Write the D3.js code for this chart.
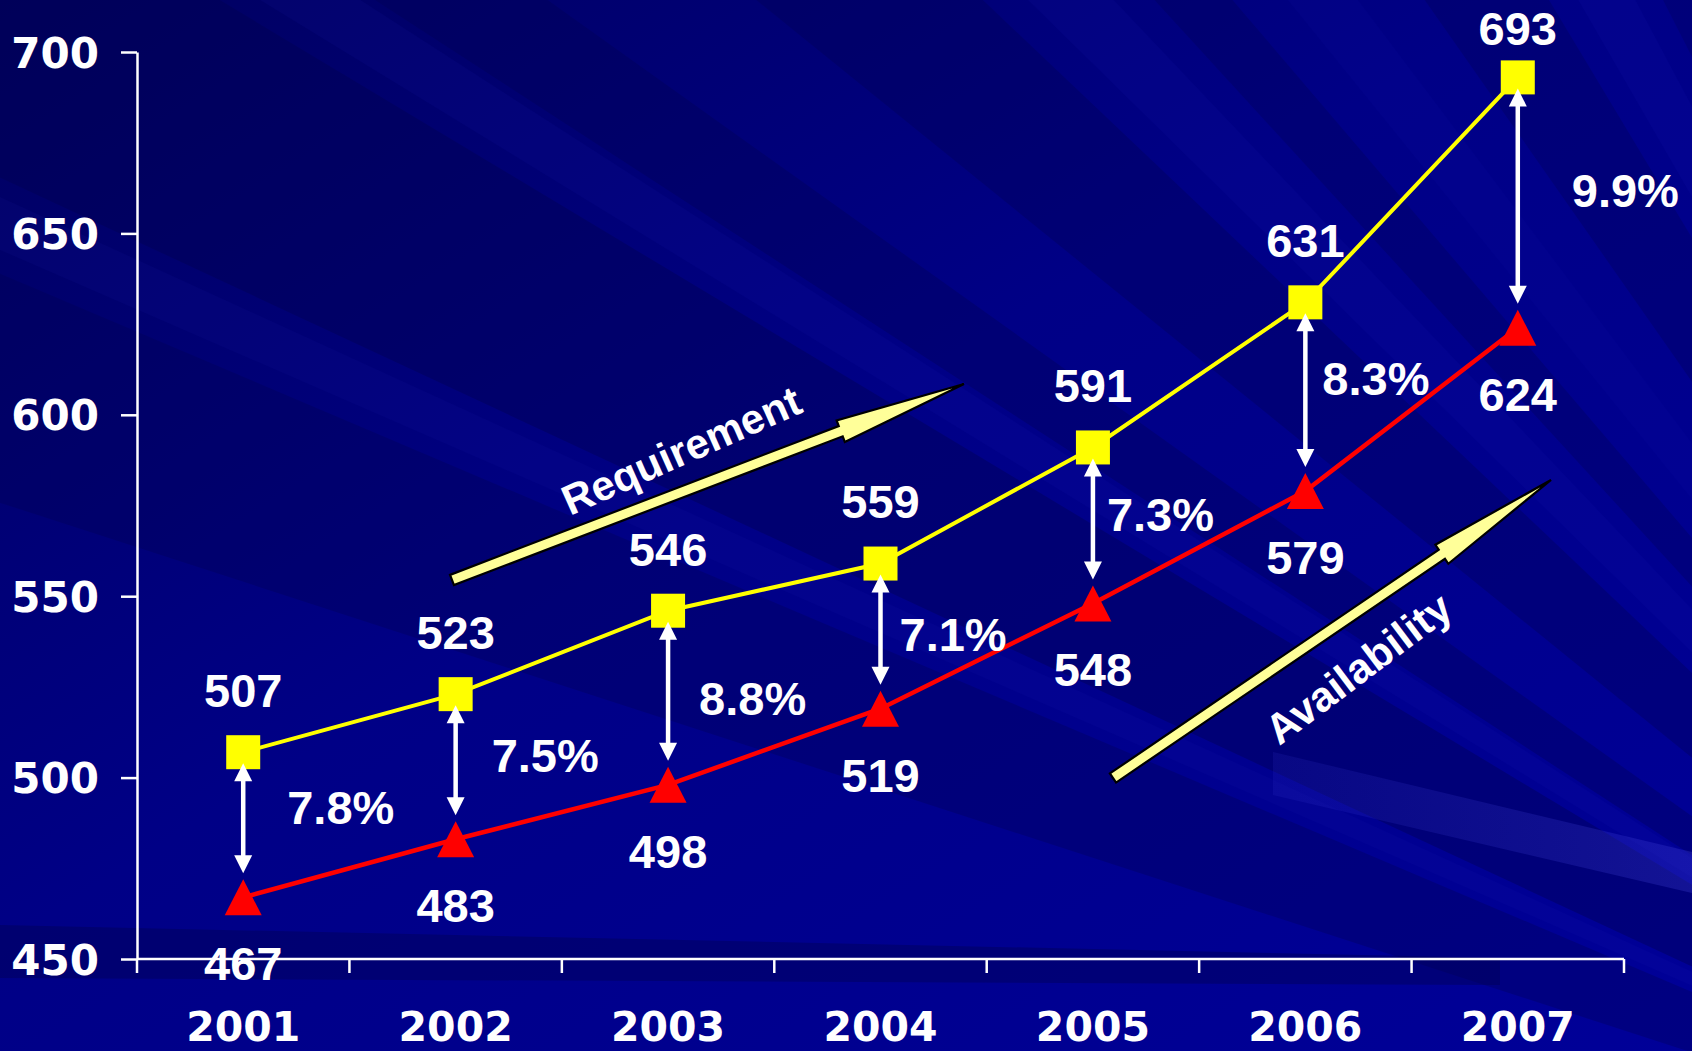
<!DOCTYPE html>
<html><head><meta charset="utf-8">
<script src="https://cdn.jsdelivr.net/npm/d3@7"></script>
<style>html,body{margin:0;padding:0;background:#000080;overflow:hidden}</style>
</head><body>
<svg id="c" width="1692" height="1051"></svg>
<script>
// ---------- data ----------
const years = ["2001","2002","2003","2004","2005","2006","2007"];
const requirement = [507,523,546,559,591,631,693];
const availability = [467,483,498,519,548,579,624];
const gapLabels = ["7.8%","7.5%","8.8%","7.1%","7.3%","8.3%","9.9%"];
const yTicks = [450,500,550,600,650,700];
const trendLabels = ["Requirement","Availability"];

// ---------- layout ----------
const W = 1692, H = 1051;
const svg = d3.select("#c");
const x = d3.scaleBand().domain(years).range([137,1624]).padding(0);
const y = d3.scaleLinear().domain([450,700]).range([959,52]);
const cx = d => x(d) + x.bandwidth()/2;

// ---------- background ----------
const defs = svg.append("defs");
const bg = defs.append("linearGradient").attr("id","bg").attr("x1","0").attr("y1","0").attr("x2","1").attr("y2","1");
bg.append("stop").attr("offset","0").attr("stop-color","#000060");
bg.append("stop").attr("offset","0.45").attr("stop-color","#000086");
bg.append("stop").attr("offset","1").attr("stop-color","#000098");
svg.append("rect").attr("width",W).attr("height",H).attr("fill","url(#bg)");

const F = [2300,1250], R = 4000;
const rays = [
  [198,203,"#000050",0.3],[205,211,"#000050",0.38],[213,215.5,"#000050",0.32],
  [219,223.5,"#000050",0.32],[227.5,229.5,"#000050",0.28],[235,239,"#000050",0.28],
  [243,245,"#000050",0.25],
  [203.5,204.6,"#2828c8",0.07],[211.5,212.8,"#2828c8",0.08],[224.5,226.5,"#2828c8",0.08],
  [240,242,"#2828c8",0.08],[246,249,"#2828c8",0.09],[231,233,"#2828c8",0.06]
];
const rad = a => a*Math.PI/180;
svg.append("g").selectAll("path").data(rays).join("path")
  .attr("d", r => `M${F[0]},${F[1]}L${F[0]+R*Math.cos(rad(r[0]))},${F[1]+R*Math.sin(rad(r[0]))}L${F[0]+R*Math.cos(rad(r[1]))},${F[1]+R*Math.sin(rad(r[1]))}Z`)
  .attr("fill", r => r[2]).attr("fill-opacity", r => r[3]);

// light band lower right
const lb = defs.append("linearGradient").attr("id","lb").attr("x1","0").attr("x2","1");
lb.append("stop").attr("offset","0").attr("stop-color","#3a3ad8").attr("stop-opacity",0.14);
lb.append("stop").attr("offset","1").attr("stop-color","#4a4ae0").attr("stop-opacity",0.26);
svg.append("path").attr("d","M1273,752L1692,852L1692,893L1273,795Z").attr("fill","url(#lb)");
// dark band near x axis
svg.append("path").attr("d","M0,925L1500,958L1500,985L0,978Z").attr("fill","#000050").attr("fill-opacity",0.4);

// ---------- axes ----------
const yAxis = d3.axisLeft(y).tickValues(yTicks).tickSize(16).tickSizeOuter(0).tickPadding(22);
const gy = svg.append("g").attr("transform","translate(137,0)").call(yAxis);
gy.select(".domain").attr("stroke","#fff").attr("stroke-width",2.5);
gy.selectAll(".tick line").attr("stroke","#fff").attr("stroke-width",2.5);
gy.selectAll(".tick text").attr("fill","#fff").attr("font-family","'DejaVu Sans'")
  .attr("font-weight","bold").attr("font-size",42).attr("dy","0.36em");

const gx = svg.append("g").attr("transform","translate(0,959)");
gx.append("line").attr("x1",137).attr("x2",1624).attr("stroke","#fff").attr("stroke-width",2.5);
const bounds = years.map(d => x(d)).concat([x(years[years.length-1]) + x.bandwidth()]);
gx.selectAll("line.t").data(bounds).join("line").attr("class","t")
  .attr("x1",d=>d).attr("x2",d=>d).attr("y1",0).attr("y2",14)
  .attr("stroke","#fff").attr("stroke-width",2.5);
gx.selectAll("text").data(years).join("text")
  .attr("x",d=>cx(d)).attr("y",82).attr("text-anchor","middle")
  .attr("fill","#fff").attr("font-family","'DejaVu Sans'").attr("font-weight","bold").attr("font-size",41)
  .text(d=>d);

// ---------- big trend arrows ----------
function bigArrow(t, tip, label, textOff, textAngle) {
  const dx = tip[0]-t[0], dy = tip[1]-t[1];
  const L = Math.hypot(dx,dy), ang = Math.atan2(dy,dx)*180/Math.PI;
  const sw = 5.5, hw = 11.5, hl = 132;
  const g = svg.append("g").attr("transform",`translate(${t[0]},${t[1]}) rotate(${ang})`);
  g.append("path").attr("d",`M0,${-sw}L${L-hl},${-sw}L${L-hl},${-hw}L${L},0L${L-hl},${hw}L${L-hl},${sw}L0,${sw}Z`)
    .attr("fill","#ffff99").attr("stroke","#000").attr("stroke-width",2.2).attr("stroke-linejoin","miter");
  svg.append("text").attr("transform",`translate(${textOff[0]},${textOff[1]}) rotate(${textAngle})`)
    .attr("text-anchor","middle").attr("dy","0.36em")
    .attr("fill","#fff").attr("font-family","'Liberation Sans'").attr("font-weight","bold").attr("font-size",42)
    .text(label);
}
bigArrow([452,580],[964,384],trendLabels[0],[681,450],-24);
bigArrow([1113,778],[1551,480],trendLabels[1],[1358,668],-37);

// ---------- lines ----------
const idx = d3.range(years.length);
const line = arr => d3.line().x(i=>cx(years[i])).y(i=>y(arr[i]))(idx);
svg.append("path").attr("d",line(requirement)).attr("fill","none").attr("stroke","#ffff00").attr("stroke-width",4);
svg.append("path").attr("d",line(availability)).attr("fill","none").attr("stroke","#ff0000").attr("stroke-width",4.5);

// markers
const sq = 34;
svg.append("g").selectAll("rect").data(idx).join("rect")
  .attr("x",i=>cx(years[i])-sq/2).attr("y",i=>y(requirement[i])-sq/2)
  .attr("width",sq).attr("height",sq).attr("fill","#ffff00");
const tw = 37, th = 36;
svg.append("g").selectAll("path").data(idx).join("path")
  .attr("d",i=>{const px=cx(years[i]), py=y(availability[i]);
    return `M${px},${py-th/2}L${px+tw/2},${py+th/2}L${px-tw/2},${py+th/2}Z`;})
  .attr("fill","#ff0000");

// ---------- double-headed gap arrows ----------
const ga = svg.append("g");
idx.forEach(i=>{
  const px = cx(years[i]);
  const top = y(requirement[i]) + 11, bot = y(availability[i]) - 24;
  const hl = 18, hw = 9;
  ga.append("line").attr("x1",px).attr("x2",px).attr("y1",top+hl-2).attr("y2",bot-hl+2)
    .attr("stroke","#fff").attr("stroke-width",4.5);
  ga.append("path").attr("d",`M${px},${top}L${px+hw},${top+hl}L${px-hw},${top+hl}Z`).attr("fill","#fff");
  ga.append("path").attr("d",`M${px},${bot}L${px+hw},${bot-hl}L${px-hw},${bot-hl}Z`).attr("fill","#fff");
});

// ---------- value labels ----------
const lblFont = sel => sel.attr("fill","#fff").attr("font-family","'Liberation Sans'")
  .attr("font-weight","bold").attr("font-size",47).attr("dy","0.36em");
svg.append("g").selectAll("text").data(idx).join("text")
  .attr("x",i=>cx(years[i])).attr("y",i=>Math.max(y(requirement[i])-62,28))
  .attr("text-anchor","middle").call(lblFont).text(i=>requirement[i]);
svg.append("g").selectAll("text").data(idx).join("text")
  .attr("x",i=>cx(years[i])).attr("y",i=>y(availability[i])+66)
  .attr("text-anchor","middle").call(lblFont).text(i=>availability[i]);

// gap % labels (placement offsets relative to the arrow midpoint)
const pctOffsets = [[44,-18],[36,-12],[31,0],[19,-2],[14,-11],[17,-19],[54,-12]];
svg.append("g").selectAll("text").data(idx).join("text")
  .attr("x",i=>cx(years[i])+pctOffsets[i][0])
  .attr("y",i=>(y(requirement[i])+y(availability[i]))/2+pctOffsets[i][1])
  .attr("text-anchor","start").call(lblFont).text(i=>gapLabels[i]);
</script>
</body></html>
